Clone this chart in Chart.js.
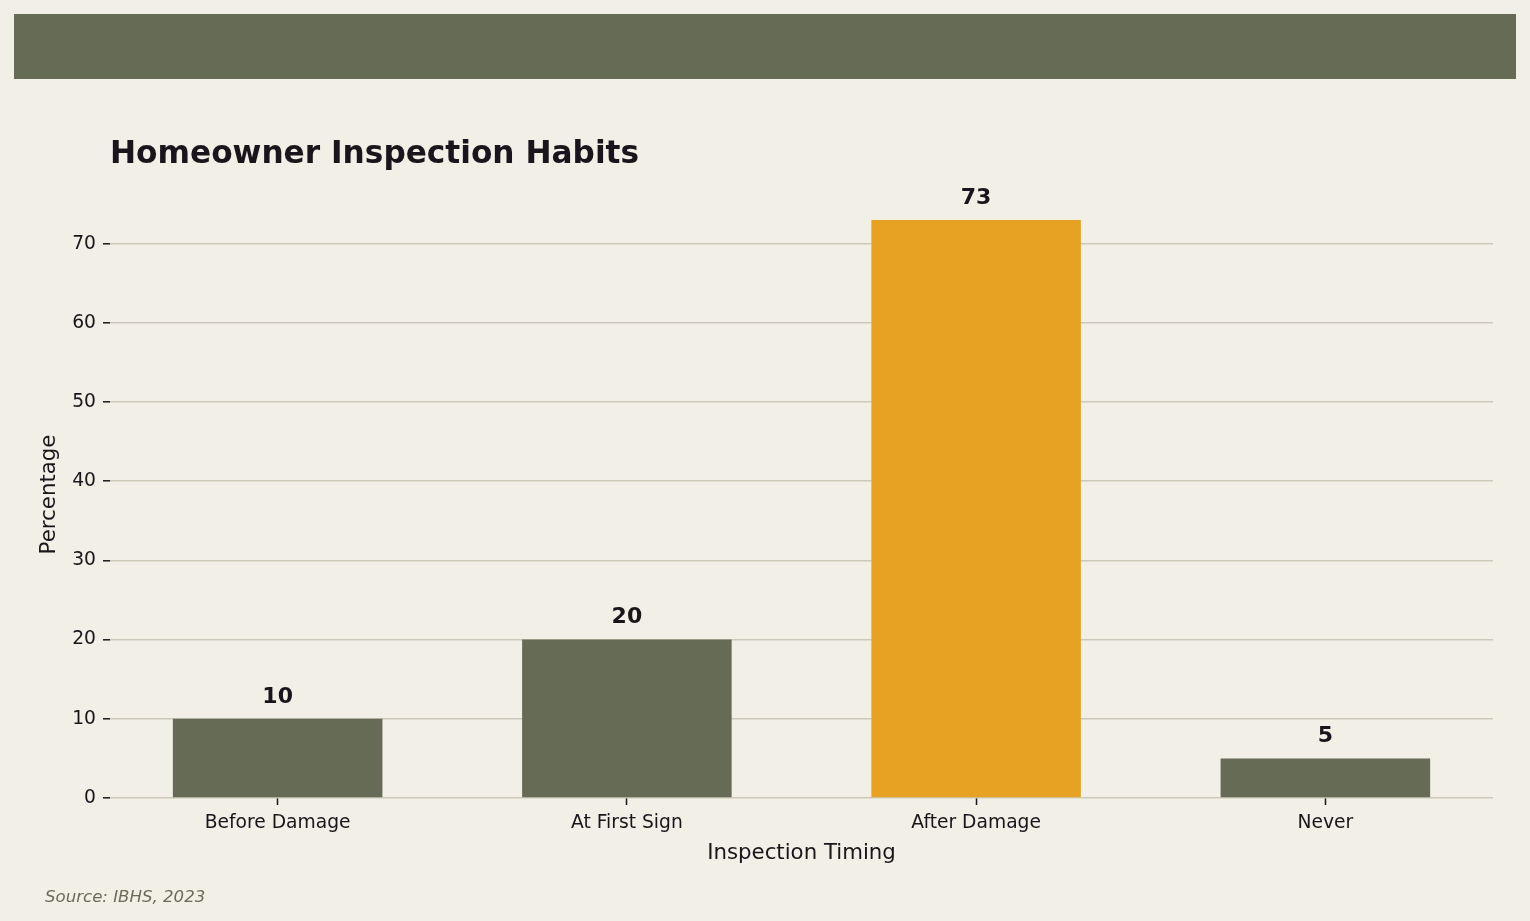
<!DOCTYPE html>
<html>
<head>
<meta charset="utf-8">
<script src="https://cdn.jsdelivr.net/npm/chart.js@4.4.1/dist/chart.umd.min.js"></script>
<style>
  html, body { margin: 0; padding: 0; background: #f2efe6; }
  body { width: 1530px; height: 921px; position: relative; overflow: hidden; font-family: "DejaVu Sans", sans-serif; }
  #banner { position: absolute; left: 14px; top: 14px; width: 1502px; height: 65px; background: #666b55; }
  #title { position: absolute; left: 110px; top: 133px; font-size: 31.2px; font-weight: bold; color: #1a141c; line-height: 38px; white-space: nowrap; }
  #source { position: absolute; left: 45px; top: 886px; font-size: 16.6px; font-style: italic; color: #6b6b5a; line-height: 22px; }
  #chart { position: absolute; left: 0; top: 0; }
</style>
</head>
<body>
<div id="banner"></div>
<canvas id="chart" width="1530" height="921"></canvas>
<div id="title">Homeowner Inspection Habits</div>
<div id="source">Source: IBHS, 2023</div>
<script>
const categories = ["Before Damage", "At First Sign", "After Damage", "Never"];
const percentages = [10, 20, 73, 5];
const barColors = ["#666b55", "#666b55", "#e8a223", "#666b55"];
const yTicks = [0, 10, 20, 30, 40, 50, 60, 70];

const textColor = "#1a141c";
const gridColor = "#cdc9ba";

// bars sit on positions 0..n-1 of a linear axis, like the source plot
const points = categories.map((c, i) => ({ x: i, y: percentages[i] }));

const valueLabels = {
  id: "valueLabels",
  afterDatasetsDraw(chart) {
    const ctx = chart.ctx;
    const meta = chart.getDatasetMeta(0);
    ctx.save();
    ctx.font = "bold 22px 'DejaVu Sans'";
    ctx.fillStyle = textColor;
    ctx.textAlign = "center";
    ctx.textBaseline = "bottom";
    meta.data.forEach((bar, i) => {
      ctx.fillText(String(percentages[i]), bar.x, bar.y - 11);
    });
    ctx.restore();
  }
};

document.addEventListener("DOMContentLoaded", () => {
  new Chart(document.getElementById("chart"), {
    type: "bar",
    data: {
      datasets: [{
        label: "Percentage",
        data: points,
        backgroundColor: barColors,
        borderWidth: 0,
        barPercentage: 0.6,
        categoryPercentage: 1.0
      }]
    },
    options: {
      responsive: false,
      devicePixelRatio: 1,
      animation: false,
      layout: { padding: { top: 191, right: 37, bottom: 0, left: 0 } },
      plugins: {
        legend: { display: false },
        tooltip: { enabled: false }
      },
      scales: {
        x: {
          type: "linear",
          min: -0.48,
          max: categories.length - 1 + 0.48,
          offset: false,
          border: { display: false },
          grid: {
            offset: false,
            drawOnChartArea: false,
            drawTicks: true,
            tickLength: 7,
            tickColor: textColor,
            tickWidth: 1.5
          },
          ticks: {
            color: textColor,
            font: { family: "DejaVu Sans", size: 18.7 },
            padding: 7,
            callback: (v) => categories[v]
          },
          afterBuildTicks(scale) {
            scale.ticks = categories.map((c, i) => ({ value: i }));
          },
          title: {
            display: true,
            text: "Inspection Timing",
            color: textColor,
            font: { family: "DejaVu Sans", size: 21.3 },
            padding: { top: 0, bottom: 55 }
          },
          afterFit(scale) { scale.height = 123; }
        },
        y: {
          min: 0,
          max: 76.65,
          border: { display: false },
          grid: {
            color: gridColor,
            lineWidth: 1.6,
            tickLength: 7,
            tickColor: textColor,
            tickWidth: 1.5
          },
          ticks: {
            stepSize: 10,
            color: textColor,
            font: { family: "DejaVu Sans", size: 18.7 },
            padding: 7
          },
          afterBuildTicks(scale) {
            scale.ticks = yTicks.map(v => ({ value: v }));
          },
          title: {
            display: true,
            text: "Percentage",
            color: textColor,
            font: { family: "DejaVu Sans", size: 21.3 },
            padding: { top: 37, bottom: 0 }
          },
          afterFit(scale) { scale.width = 110; }
        }
      }
    },
    plugins: [valueLabels]
  });
});
</script>
</body>
</html>
